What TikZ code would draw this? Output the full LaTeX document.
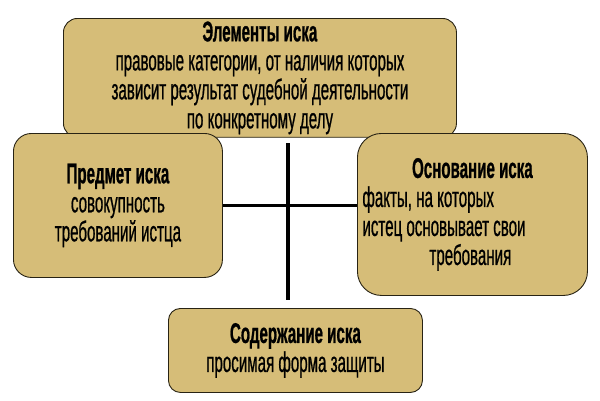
\documentclass[tikz,border=0pt]{standalone}
\usepackage{fontspec}
\setmainfont[FakeStretch=0.53,FakeBold=0.7]{Liberation Sans}
\definecolor{boxfill}{RGB}{214,189,120}
\definecolor{boxedge}{RGB}{40,35,20}
\newcommand{\myleftline}[1]{\makebox[220pt][l]{#1}}
\newcommand{\mycenterline}[1]{\makebox[220pt][c]{#1}}
\begin{document}
\begin{tikzpicture}[x=1pt,y=-1pt,
  box/.style={draw=boxedge, line width=0.9pt, fill=boxfill, inner sep=3pt,
    font=\fontsize{28.5}{29}\selectfont, align=center, anchor=north west},
  link/.style={line width=3.5pt, black}]
\useasboundingbox (0,0) rectangle (600,400);
% boxes
\node[box, rounded corners=14pt, minimum width=393pt, minimum height=110pt]
  (top) at (63,18) {\textbf{Элементы иска}\\правовые категории, от наличия которых\\зависит результат судебной деятельности\\по конкретному делу};
\node[box, rounded corners=18pt, minimum width=209pt, minimum height=144pt]
  (left) at (13,133) {\textbf{Предмет иска}\\совокупность\\требований истца};
\node[box, rounded corners=24pt, minimum width=230pt, minimum height=162pt]
  (right) at (357,133) {\mycenterline{\textbf{Основание иска}}\\\myleftline{факты, на которых}\\\myleftline{истец основывает свои}\\\myleftline{\hspace*{67pt}требования}};
\node[box, rounded corners=12pt, minimum width=254pt, minimum height=84pt]
  (bottom) at (168,308) {\textbf{Содержание иска}\\просимая форма защиты};
% connectors
\coordinate (vt) at (288,143);
\coordinate (vb) at (288,300);
\draw[link] (vt) -- (vb);
\draw[link] (left.east) -- (left.east -| right.west);
\end{tikzpicture}
\end{document}
